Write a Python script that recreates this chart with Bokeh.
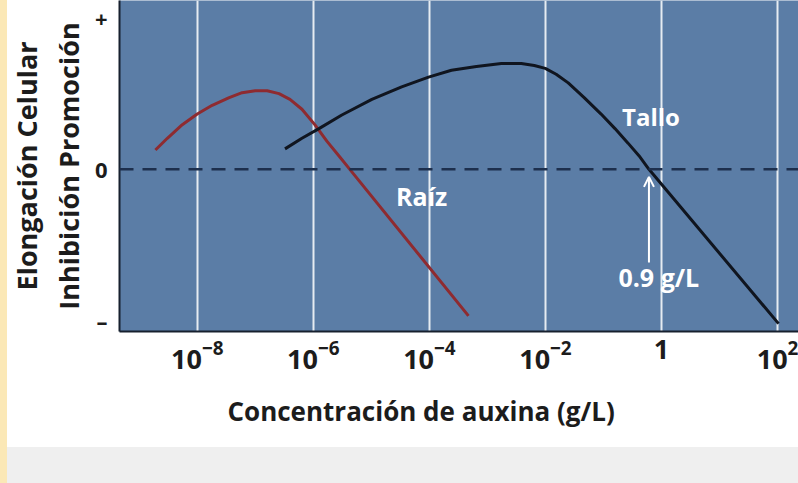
from bokeh.plotting import figure
from bokeh.models import (Range1d, FixedTicker, Label, Span, Arrow, OpenHead, Div,
                          LogTickFormatter, Title)
from bokeh.layouts import row, column
from bokeh.embed import file_html
from bokeh.resources import INLINE

# ---- data ----
raiz_conc = [1.90e-9, 3.05e-9, 5.52e-9, 1.0e-8, 1.81e-8, 3.55e-8, 5.93e-8, 1.0e-7,
             1.60e-7, 2.56e-7, 3.96e-7, 6.37e-7, 1.06e-6, 1.71e-6, 2.75e-6, 4.26e-6, 4.72e-4]
raiz_val = [0.128, 0.205, 0.295, 0.365, 0.423, 0.474, 0.506, 0.519,
            0.519, 0.500, 0.462, 0.397, 0.295, 0.186, 0.090, 0.0, -0.968]

tallo_conc = [3.25e-7, 6.37e-7, 1.25e-6, 3.10e-6, 1.02e-5, 3.33e-5, 9.68e-5, 2.40e-4,
              6.47e-4, 1.74e-3, 3.84e-3, 6.43e-3, 9.93e-3, 1.53e-2, 2.47e-2, 4.65e-2,
              9.10e-2, 0.158, 0.265, 0.409, 0.608, 104.0]
tallo_val = [0.135, 0.205, 0.269, 0.359, 0.462, 0.545, 0.609, 0.654,
             0.679, 0.699, 0.699, 0.686, 0.667, 0.628, 0.571, 0.474,
             0.365, 0.269, 0.173, 0.090, 0.0, -1.019]

x_ticks = [1e-8, 1e-6, 1e-4, 1e-2, 1.0, 1e2]
y_ticks = [-1, 0, 1]
y_tick_labels = ["\u2013", "0", "+"]

arrow_x = 0.608
arrow_label = "0.9 g/L"

FONT = "Open Sans"
BG = "#5B7DA6"
DARK = "#1c1c1c"

p = figure(width=791, height=447, x_axis_type="log",
           x_range=Range1d(10 ** -9.34, 10 ** 2.361), y_range=Range1d(-1.071, 1.115),
           output_backend="svg", toolbar_location=None,
           min_border_left=110, min_border_right=0, min_border_top=0, min_border_bottom=106)
p.background_fill_color = BG
p.border_fill_color = "white"
p.outline_line_color = None

# x axis
p.xaxis.ticker = FixedTicker(ticks=x_ticks)
p.xaxis.formatter = LogTickFormatter(min_exponent=1)
p.xaxis.major_label_text_font = FONT
p.xaxis.major_label_text_font_style = "bold"
p.xaxis.major_label_text_font_size = "27px"
p.xaxis.major_label_text_color = DARK
p.xaxis.major_label_standoff = 2
p.xaxis.major_tick_line_color = None
p.xaxis.minor_tick_line_color = None
p.xaxis.axis_line_color = "#17202e"
p.xaxis.axis_line_width = 2
p.xgrid.ticker = FixedTicker(ticks=x_ticks)
p.xgrid.grid_line_color = "white"
p.xgrid.grid_line_width = 2
p.xgrid.grid_line_alpha = 0.85
p.ygrid.grid_line_color = None

# y axis
p.yaxis.ticker = FixedTicker(ticks=y_ticks)
p.yaxis.major_label_overrides = {t: l for t, l in zip(y_ticks, y_tick_labels)}
p.yaxis.major_label_text_font = FONT
p.yaxis.major_label_text_font_style = "bold"
p.yaxis.major_label_text_font_size = "22px"
p.yaxis.major_label_text_color = DARK
p.yaxis.major_label_standoff = 6
p.yaxis.major_tick_line_color = None
p.yaxis.minor_tick_line_color = None
p.yaxis.axis_line_color = "#17202e"
p.yaxis.axis_line_width = 2

# axis titles
p.add_layout(Title(text="Concentración de auxina (g/L)", align="left", offset=108,
                   standoff=38, text_font=FONT, text_font_style="bold",
                   text_font_size="26px", text_color=DARK), "below")
p.add_layout(Title(text="Inhibición Promoción", align="center", standoff=10,
                   text_font=FONT, text_font_style="bold", text_font_size="27px",
                   text_color=DARK), "left")
p.add_layout(Title(text="Elongación Celular", align="center", standoff=-4,
                   text_font=FONT, text_font_style="bold", text_font_size="27px",
                   text_color=DARK), "left")

# zero line
p.add_layout(Span(location=0, dimension="width", line_color="#1d2f4d",
                  line_width=2.5, line_dash="14 9"))

# curves
p.line(raiz_conc, raiz_val, line_color="#8e2b30", line_width=3)
p.line(tallo_conc, tallo_val, line_color="#10151f", line_width=3)

# arrow + labels inside
p.add_layout(Arrow(end=OpenHead(line_color="white", line_width=2, size=10),
                   x_start=arrow_x, y_start=-0.615, x_end=arrow_x, y_end=-0.05,
                   line_color="white", line_width=2))

def lab(x, y, text, size, color="white"):
    p.add_layout(Label(x=x, y=y, text=text, text_font=FONT, text_font_style="bold",
                       text_font_size=size, text_color=color, text_align="center",
                       text_baseline="middle"))

lab(0.66, 0.346, "Tallo", "24px")
lab(10 ** -4.134, -0.173, "Ra\u00edz", "25px")
lab(0.9, -0.71, arrow_label, "25px")

yellow = Div(width=7, height=483, margin=0, styles={"background-color": "#FBE8B6"})
gray = Div(width=791, height=36, margin=0, styles={"background-color": "#EFEFEF"})
root = row(yellow, column(p, gray, spacing=0), spacing=0)

open("out.html", "w").write(file_html(root, INLINE))
